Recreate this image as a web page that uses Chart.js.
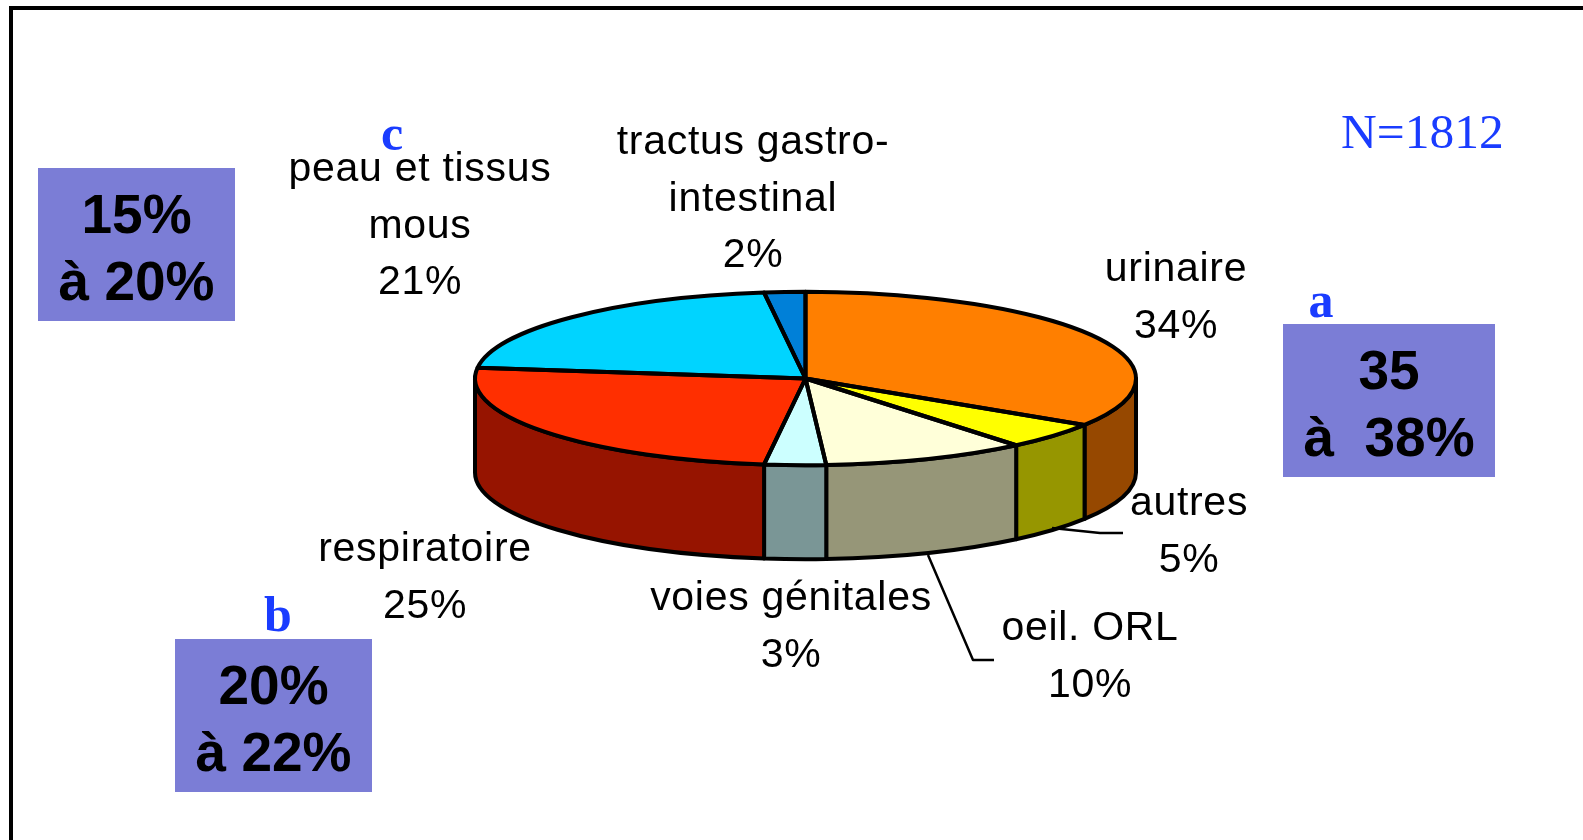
<!DOCTYPE html>
<html>
<head>
<meta charset="utf-8">
<title>Sites d'infection</title>
<script src="https://cdn.jsdelivr.net/npm/chart.js@4/dist/chart.umd.min.js"></script>
<style>
  html, body { margin: 0; padding: 0; background: #fff; overflow: hidden; }
  #stage { position: relative; width: 1583px; height: 840px; overflow: hidden; }
  #pie { position: absolute; left: 0; top: 0; }
  .frame { position: absolute; background: #000; }
  .range {
    position: absolute; width: 197px; height: 153px; background: #7b7dd6; color: #000;
    font: bold 55px/66.5px "Liberation Sans", Arial, sans-serif; text-align: center;
    white-space: pre; padding-top: 13px; box-sizing: border-box;
  }
  .note { position: absolute; color: #1a3cff; font-family: "Liberation Serif", serif; line-height: 1; white-space: pre; }
  .letter { font-size: 50px; font-weight: bold; transform: translateX(-50%); }
</style>
</head>
<body>
<div id="stage">
  <canvas id="pie" width="1583" height="840"></canvas>
  <div class="frame" style="left:9px;top:6px;width:1574px;height:4px"></div>
  <div class="frame" style="left:9px;top:6px;width:4px;height:834px"></div>
  <div class="range" style="left:38px;top:168px">15%
à 20%</div>
  <div class="range" style="left:175px;top:639px">20%
à 22%</div>
  <div class="range" style="left:1283px;top:324px;width:212px">35
à  38%</div>
  <div class="note letter" style="left:392px;top:108px">c</div>
  <div class="note letter" style="left:278px;top:589px">b</div>
  <div class="note letter" style="left:1321px;top:275px">a</div>
  <div class="note" style="left:1341px;top:107px;font-size:49.5px">N=1812</div>
</div>
<script>
const categories = ['urinaire', 'autres', 'oeil. ORL', 'voies génitales', 'respiratoire', 'peau et tissus mous', 'tractus gastro-intestinal'];
const values = [34, 5, 10, 3, 25, 21, 2];
const sliceColors = ['#ff7f00', '#ffff00', '#ffffd9', '#ccffff', '#ff2f00', '#00d4ff', '#0080d8'];
const wallColors = ['#964800', '#969600', '#969678', '#7a9696', '#961400', '#007d96', '#004b80'];

// label layout: wrapped lines of each category, centre x, first baseline
const labelLines = [['urinaire'], ['autres'], ['oeil. ORL'], ['voies génitales'], ['respiratoire'], ['peau et tissus', 'mous'], ['tractus gastro-', 'intestinal']];
const labelX = [1176, 1189, 1090, 791, 425, 420, 753];
const labelY = [281, 515, 640, 610, 561, 181, 154];

const squash = 86.5 / 330;
const depth = 94;

function arcPath(ctx, el, from, to, back) {
  ctx.save();
  ctx.translate(el.x, el.y);
  ctx.scale(1, squash);
  ctx.arc(0, 0, el.outerRadius, from, to, back);
  ctx.restore();
}

const pie3d = {
  id: 'pie3d',
  beforeDatasetsDraw(chart) {
    const ctx = chart.ctx;
    const arcs = chart.getDatasetMeta(0).data;
    ctx.save();
    ctx.lineWidth = 4;
    ctx.lineJoin = 'round';
    ctx.strokeStyle = '#000';
    // side wall, only the part of each slice facing the viewer
    arcs.forEach((el, i) => {
      const from = Math.max(el.startAngle, 0);
      const to = Math.min(el.endAngle, Math.PI);
      if (to <= from) return;
      ctx.beginPath();
      arcPath(ctx, el, from, to, false);
      ctx.save();
      ctx.translate(0, depth);
      arcPath(ctx, el, to, from, true);
      ctx.restore();
      ctx.closePath();
      ctx.fillStyle = wallColors[i];
      ctx.fill();
      ctx.stroke();
    });
    ctx.restore();
    // the slices themselves get drawn flattened
    const c = arcs[0];
    ctx.save();
    ctx.translate(c.x, c.y);
    ctx.scale(1, squash);
    ctx.translate(-c.x, -c.y);
  },
  afterDatasetsDraw(chart) {
    const ctx = chart.ctx;
    ctx.restore();
    const arcs = chart.getDatasetMeta(0).data;
    ctx.save();
    ctx.lineWidth = 4;
    ctx.lineJoin = 'round';
    ctx.strokeStyle = '#000';
    arcs.forEach((el) => {
      ctx.beginPath();
      ctx.moveTo(el.x, el.y);
      arcPath(ctx, el, el.startAngle, el.endAngle, false);
      ctx.closePath();
      ctx.stroke();
    });

    // leader lines for autres and oeil. ORL
    ctx.lineWidth = 2.5;
    ctx.beginPath();
    ctx.moveTo(1052, 528);
    ctx.lineTo(1100, 533);
    ctx.lineTo(1123, 533);
    ctx.moveTo(928, 555);
    ctx.lineTo(973, 660);
    ctx.lineTo(994, 660);
    ctx.stroke();

    ctx.fillStyle = '#000';
    ctx.font = '41px "Liberation Sans", Arial, sans-serif';
    ctx.letterSpacing = '0.7px';
    ctx.textAlign = 'center';
    categories.forEach((name, i) => {
      const lines = [...labelLines[i], values[i] + '%'];
      lines.forEach((line, k) => ctx.fillText(line, labelX[i], labelY[i] + k * 56.5));
    });
    ctx.restore();
  }
};

new Chart(document.getElementById('pie'), {
  type: 'pie',
  data: {
    labels: categories,
    datasets: [{ data: values, backgroundColor: sliceColors, borderWidth: 0, clip: false }]
  },
  options: {
    responsive: false,
    animation: false,
    // leaves a square area of radius 330 around the pie centre
    layout: { padding: { left: 475, right: 447, top: 48, bottom: 131 } },
    plugins: { legend: { display: false }, tooltip: { enabled: false } }
  },
  plugins: [pie3d]
});
</script>
</body>
</html>
